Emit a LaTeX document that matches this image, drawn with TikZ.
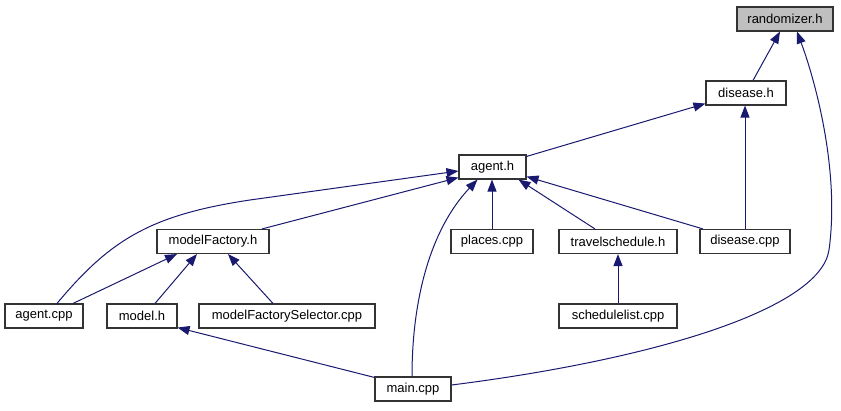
\documentclass[tikz,border=0pt]{standalone}
\usepackage{fontspec}
\setmainfont{Liberation Sans}
\usetikzlibrary{arrows.meta}
\definecolor{edgec}{HTML}{191970}
\definecolor{boxc}{HTML}{333333}
\definecolor{grayfill}{HTML}{BFBFBF}
\begin{document}
\begin{tikzpicture}[x=1pt,y=-1pt,
  box/.style={draw=boxc,line width=1.1pt,fill=white,minimum height=24pt,inner sep=0pt,font=\fontsize{13}{15}\selectfont},
  edge/.style={draw=edgec,line width=1pt,-{Triangle[length=12pt,width=9pt]}}]
\useasboundingbox (0,0) rectangle (841,411);
\node[box,fill=grayfill,minimum width=96pt] (rand) at (785,19) {randomizer.h};
\node[box,minimum width=80pt] (dish) at (746,93) {disease.h};
\node[box,minimum width=67pt] (agh) at (492.5,167) {agent.h};
\node[box,minimum width=112pt] (mfh) at (213,241.5) {modelFactory.h};
\node[box,minimum width=82pt] (pl) at (492,241.5) {places.cpp};
\node[box,minimum width=118pt] (ts) at (618,241.5) {travelschedule.h};
\node[box,minimum width=90pt] (disc) at (745,241.5) {disease.cpp};
\node[box,minimum width=78pt] (agcpp) at (44,316) {agent.cpp};
\node[box,minimum width=70pt] (modh) at (142,316) {model.h};
\node[box,minimum width=176pt] (mfs) at (287,316) {modelFactorySelector.cpp};
\node[box,minimum width=118pt] (sl) at (618,316) {schedulelist.cpp};
\node[box,minimum width=76pt] (main) at (413,389) {main.cpp};
% edges
\draw[edge] ([xshift=7pt]dish.north) -- ([xshift=-5pt]rand.south);
\draw[edge] ([yshift=4pt]main.east) .. controls (650,360) and (820,310) .. (829,250)
  .. controls (840,170) and (815,80) .. ([xshift=12pt]rand.south);
\draw[edge] ([yshift=-2pt]agh.north east) -- ([yshift=2pt]dish.south west);
\draw[edge] (disc.north) -- (disc.north |- dish.south);
\draw[edge] ([xshift=13pt]agcpp.north) .. controls (110,240) and (150,215) .. (250,200) -- ([yshift=-4pt]agh.west);
\draw[edge] ([xshift=49pt]mfh.north) -- ([yshift=2pt]agh.south west);
\draw[edge] ([xshift=29pt]agcpp.north) -- ([xshift=-36pt]mfh.south);
\draw[edge] ([xshift=13pt]modh.north) -- ([xshift=-16pt]mfh.south);
\draw[edge] ([xshift=-14pt]mfs.north) -- ([xshift=15pt]mfh.south);
\draw[edge] ([xshift=-1pt]main.north) .. controls (412,300) and (430,230) .. ([xshift=-15pt]agh.south);
\draw[edge] (pl.north) -- (pl.north |- agh.south);
\draw[edge] ([xshift=-23pt]ts.north) -- ([xshift=26pt]agh.south);
\draw[edge] ([xshift=-42pt]disc.north) -- ([yshift=3pt]agh.south east);
\draw[edge] (sl.north) -- (ts.south);
\draw[edge] ([yshift=-1pt]main.north west) -- ([yshift=1pt]modh.south east);
\end{tikzpicture}
\end{document}
